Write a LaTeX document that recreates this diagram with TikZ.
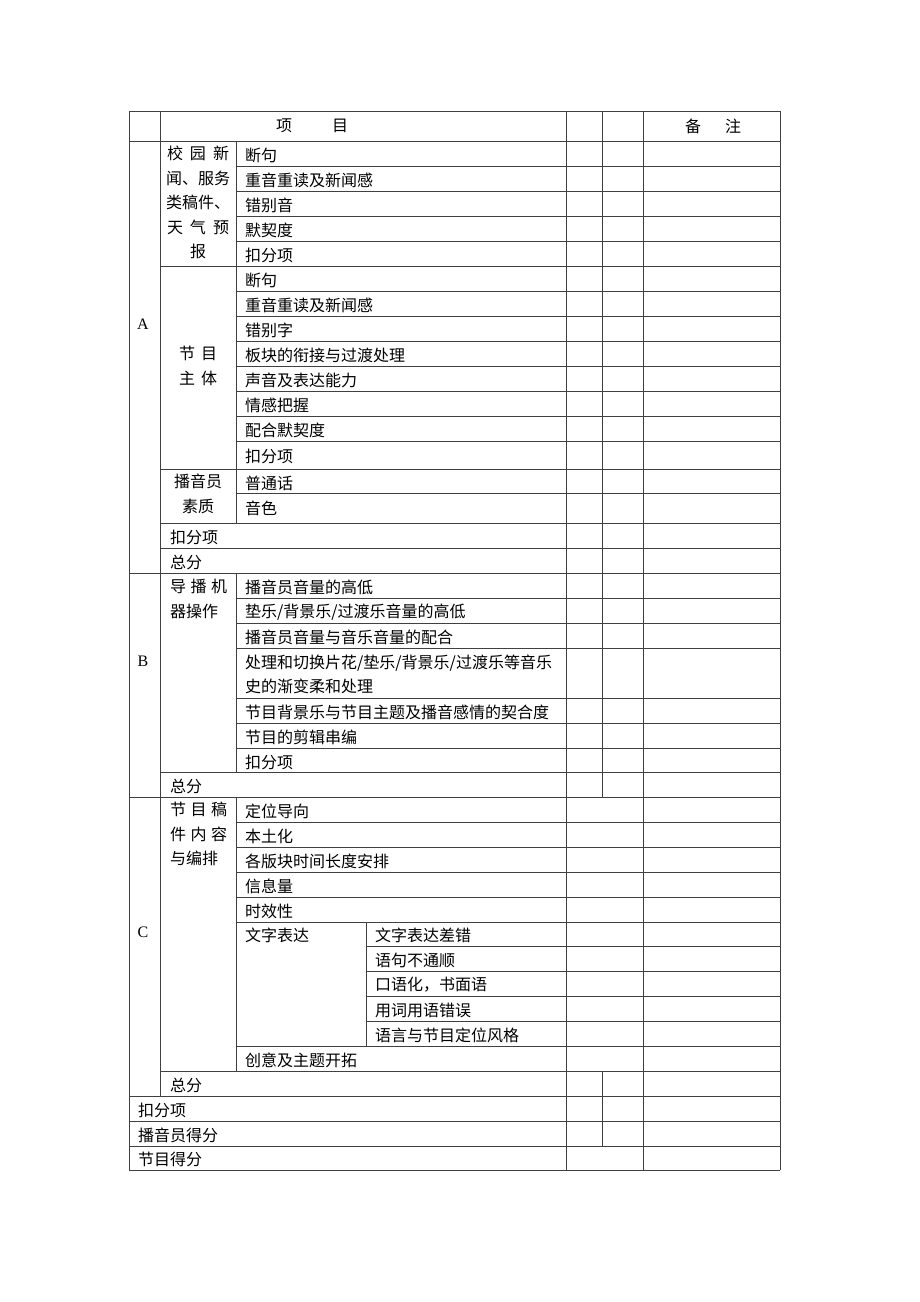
\documentclass[tikz,border=0pt]{standalone}
\usepackage{fontspec}
\setmainfont{Liberation Serif}
\newfontfamily\cjk{Noto Sans CJK SC}
\usepackage{tikz}
\usetikzlibrary{positioning}
\tikzstyle{rule} = [draw=black!75, line width=0.9pt]
\tikzstyle{item} = [anchor=west, inner sep=0pt, font=\cjk\fontsize{16}{24}\selectfont]
\tikzstyle{group} = [anchor=north, align=center, inner sep=0pt, font=\cjk\fontsize{16}{24.5}\selectfont]
\tikzstyle{lgroup} = [anchor=north west, align=left, inner sep=0pt, font=\cjk\fontsize{16}{24.5}\selectfont]
\tikzstyle{sect} = [inner sep=0pt, font=\fontsize{16}{18}\selectfont]

\begin{document}
\begin{tikzpicture}[x=1pt, y=-1pt]
                 \useasboundingbox (0,0) rectangle (920,1302);
                 % horizontal rules
                 \foreach \y in {111,141,573,797,1096,1121,1146,1170}
                     \draw [rule] (129,\y) -- (780,\y);
                 \foreach \y in {266,469,523,548,772,1071}
                     \draw [rule] (160,\y) -- (780,\y);
                 \foreach \y in {166,191,216,241,291,316,341,366,391,416,441,493,
                     598,623,648,698,723,748,822,847,872,897,922,1046}
                     \draw [rule] (236,\y) -- (780,\y);
                 \foreach \y in {946,971,996,1021}
                     \draw [rule] (366,\y) -- (780,\y);
                 % vertical rules
                 \draw [rule] (129,111) -- (129,1170);
                 \draw [rule] (160,111) -- (160,1096);
                 \draw [rule] (236,141) -- (236,523);
                 \draw [rule] (236,573) -- (236,772);
                 \draw [rule] (236,797) -- (236,1071);
                 \draw [rule] (366,922) -- (366,1046);
                 \draw [rule] (566,111) -- (566,1170);
                 \draw [rule] (602,111) -- (602,797);
                 \draw [rule] (602,1071) -- (602,1146);
                 \draw [rule] (643,111) -- (643,1170);
                 \draw [rule] (780,111) -- (780,1170);
                 % header
                 \node (xm) [item, anchor=center] at (312,126) {项\hspace{40pt}目};
                 \node (bz) [item, anchor=center] at (713,126) {备\hspace{24pt}注};
                 % section A
                 \node (A) [sect] at (143,324) {A};
                 \node (ga1) [group] at (198,146) {校\hspace{7pt}园\hspace{7pt}新\\闻、服务\\类稿件、\\天\hspace{7pt}气\hspace{7pt}预\\报};
                 \node (a1) [item] at (245,155) {断句};
                 \node (a2) [item] at (245,180) {重音重读及新闻感};
                 \node (a3) [item] at (245,205) {错别音};
                 \node (a4) [item] at (245,230) {默契度};
                 \node (a5) [item] at (245,255) {扣分项};
                 \node (ga2) [group] at (198,346) {节\hspace{6pt}目\\主\hspace{6pt}体};
                 \node (b1) [item] at (245,280) {断句};
                 \node (b2) [item] at (245,305) {重音重读及新闻感};
                 \node (b3) [item] at (245,330) {错别字};
                 \node (b4) [item] at (245,355) {板块的衔接与过渡处理};
                 \node (b5) [item] at (245,380) {声音及表达能力};
                 \node (b6) [item] at (245,405) {情感把握};
                 \node (b7) [item] at (245,430) {配合默契度};
                 \node (b8) [item] at (245,456) {扣分项};
                 \node (ga3) [group] at (198,474) {播音员\\素质};
                 \node (c1) [item] at (245,483) {普通话};
                 \node (c2) [item] at (245,508) {音色};
                 \node (ka) [item] at (170,537) {扣分项};
                 \node (za) [item] at (170,562) {总分};
                 % section B
                 \node (B) [sect] at (143,661) {B};
                 \node (gb) [lgroup] at (170,579) {导\hspace{4.5pt}播\hspace{4.5pt}机\\器操作};
                 \node (d1) [item] at (245,587) {播音员音量的高低};
                 \node (d2) [item] at (245,612) {垫乐/背景乐/过渡乐音量的高低};
                 \node (d3) [item] at (245,637) {播音员音量与音乐音量的配合};
                 \node (d4) [item, align=left] at (245,674) {处理和切换片花/垫乐/背景乐/过渡乐等音乐\\史的渐变柔和处理};
                 \node (d5) [item] at (245,712) {节目背景乐与节目主题及播音感情的契合度};
                 \node (d6) [item] at (245,737) {节目的剪辑串编};
                 \node (d7) [item] at (245,762) {扣分项};
                 \node (zb) [item] at (170,786) {总分};
                 % section C
                 \node (C) [sect] at (143,932) {C};
                 \node (gc) [lgroup] at (170,802) {节\hspace{4.5pt}目\hspace{4.5pt}稿\\件\hspace{4.5pt}内\hspace{4.5pt}容\\与编排};
                 \node (e1) [item] at (245,811) {定位导向};
                 \node (e2) [item] at (245,836) {本土化};
                 \node (e3) [item] at (245,861) {各版块时间长度安排};
                 \node (e4) [item] at (245,886) {信息量};
                 \node (e5) [item] at (245,911) {时效性};
                 \node (wz) [item] at (245,935) {文字表达};
                 \node (f1) [item] at (375,935) {文字表达差错};
                 \node (f2) [item] at (375,960) {语句不通顺};
                 \node (f3) [item] at (375,985) {口语化，书面语};
                 \node (f4) [item] at (375,1010) {用词用语错误};
                 \node (f5) [item] at (375,1035) {语言与节目定位风格};
                 \node (e6) [item] at (245,1060) {创意及主题开拓};
                 \node (zc) [item] at (170,1085) {总分};
                 % totals
                 \node (kf) [item] at (138,1110) {扣分项};
                 \node (bd) [item] at (138,1135) {播音员得分};
                 \node (jd) [item] at (138,1159) {节目得分};
             \end{tikzpicture}
\end{document}
